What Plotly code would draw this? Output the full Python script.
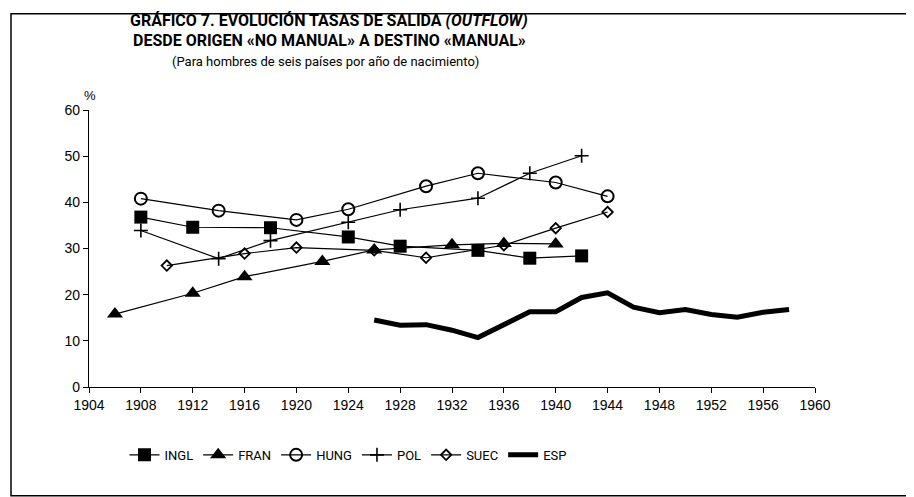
import plotly.graph_objects as go

# Data
ingl_years = [1908, 1912, 1918, 1924, 1928, 1934, 1938, 1942]
ingl_vals = [36.8, 34.6, 34.5, 32.5, 30.5, 29.6, 27.9, 28.4]

fran_years = [1906, 1912, 1916, 1922, 1926, 1932, 1936, 1940]
fran_vals = [15.8, 20.3, 23.9, 27.2, 29.7, 30.8, 31.1, 31.0]

hung_years = [1908, 1914, 1920, 1924, 1930, 1934, 1940, 1944]
hung_vals = [40.8, 38.2, 36.2, 38.5, 43.5, 46.3, 44.3, 41.3]

pol_years = [1908, 1914, 1918, 1924, 1928, 1934, 1938, 1942]
pol_vals = [33.9, 27.8, 31.7, 35.7, 38.4, 40.9, 46.3, 50.1]

suec_years = [1910, 1916, 1920, 1926, 1930, 1936, 1940, 1944]
suec_vals = [26.3, 28.9, 30.2, 29.6, 28.0, 30.7, 34.4, 37.9]

esp_years = [1926, 1928, 1930, 1932, 1934, 1936, 1938, 1940, 1942, 1944,
             1946, 1948, 1950, 1952, 1954, 1956, 1958]
esp_vals = [14.5, 13.4, 13.5, 12.3, 10.7, 13.5, 16.3, 16.3, 19.4, 20.4,
            17.3, 16.1, 16.8, 15.7, 15.1, 16.2, 16.8]

x_ticks = list(range(1904, 1961, 4))
y_ticks = [0, 10, 20, 30, 40, 50, 60]

FONT = "Liberation Sans, Arial, sans-serif"
COND = "Roboto, Liberation Sans, sans-serif"

fig = go.Figure()
lw = 1.2
fig.add_trace(go.Scatter(x=ingl_years, y=ingl_vals, name="INGL", mode="lines+markers",
                         line=dict(color="black", width=lw),
                         marker=dict(symbol="square", size=13, color="black")))
fig.add_trace(go.Scatter(x=fran_years, y=fran_vals, name="FRAN", mode="lines+markers",
                         line=dict(color="black", width=lw),
                         marker=dict(symbol="triangle-up", size=14, color="black")))
fig.add_trace(go.Scatter(x=hung_years, y=hung_vals, name="HUNG", mode="lines+markers",
                         line=dict(color="black", width=lw),
                         marker=dict(symbol="circle-open", size=12, color="black",
                                     line=dict(width=2, color="black"))))
fig.add_trace(go.Scatter(x=pol_years, y=pol_vals, name="POL", mode="lines+markers",
                         line=dict(color="black", width=lw),
                         marker=dict(symbol="cross-thin", size=10, color="black",
                                     line=dict(width=1.6, color="black"))))
fig.add_trace(go.Scatter(x=suec_years, y=suec_vals, name="SUEC", mode="lines+markers",
                         line=dict(color="black", width=lw),
                         marker=dict(symbol="diamond-open", size=8, color="black",
                                     line=dict(width=1.8, color="black"))))
fig.add_trace(go.Scatter(x=esp_years, y=esp_vals, name="ESP", mode="lines",
                         line=dict(color="black", width=5)))

OFF = 8  # page body margin
W, H = 914 - OFF, 497 - OFF
L, R, T, B = 89 - OFF, 815 - OFF, 109.5 - OFF, 387 - OFF
pw, ph = R - L, B - T

def px(x):
    return (x - OFF - L) / pw

def py(y):
    return (B - (y - OFF)) / ph

fig.update_layout(
    width=W, height=H,
    margin=dict(l=L, r=W - R, t=T, b=H - B, pad=0),
    paper_bgcolor="white", plot_bgcolor="white",
    font=dict(family=FONT, size=14, color="black"),
    showlegend=True,
    legend=dict(orientation="h", x=px(348), y=py(455), xanchor="center", yanchor="middle",
                font=dict(family=COND, size=13, color="black"),
                itemwidth=30, tracegroupgap=0, bgcolor="rgba(0,0,0,0)"),
    xaxis=dict(range=[1904, 1960], tickvals=x_ticks, ticktext=[str(v) for v in x_ticks],
               showgrid=False, zeroline=False, showline=True, linecolor="black", linewidth=1.3,
               ticks="outside", ticklen=5, tickwidth=1.2, tickcolor="black",
               automargin=False, tickfont=dict(family=FONT, size=14)),
    yaxis=dict(range=[0, 60], tickvals=y_ticks, showgrid=False, zeroline=False,
               showline=True, linecolor="black", linewidth=1.3,
               ticks="outside", ticklen=5, tickwidth=1.2, tickcolor="black",
               automargin=False, tickfont=dict(family=FONT, size=14)),
    annotations=[
        dict(text="<b>GRÁFICO 7. EVOLUCIÓN TASAS DE SALIDA <i>(OUTFLOW)</i></b>",
             xref="paper", yref="paper", x=px(329), y=py(20), showarrow=False,
             xanchor="center", yanchor="middle", font=dict(family=COND, size=16)),
        dict(text="<b>DESDE ORIGEN «NO MANUAL» A DESTINO «MANUAL»</b>",
             xref="paper", yref="paper", x=px(329), y=py(40), showarrow=False,
             xanchor="center", yanchor="middle", font=dict(family=COND, size=16)),
        dict(text="(Para hombres de seis países por año de nacimiento)",
             xref="paper", yref="paper", x=px(325), y=py(61), showarrow=False,
             xanchor="center", yanchor="middle", font=dict(family=COND, size=13)),
        dict(text="%", xref="paper", yref="paper", x=px(90), y=py(95), showarrow=False,
             xanchor="center", yanchor="middle", font=dict(family=FONT, size=13)),
    ],
    shapes=[
        dict(type="rect", xref="paper", yref="paper", x0=px(11), x1=px(911),
             y0=py(496), y1=py(13), line=dict(color="black", width=1.5),
             fillcolor="rgba(0,0,0,0)", layer="below"),
    ],
)

fig.write_html("out.html")
